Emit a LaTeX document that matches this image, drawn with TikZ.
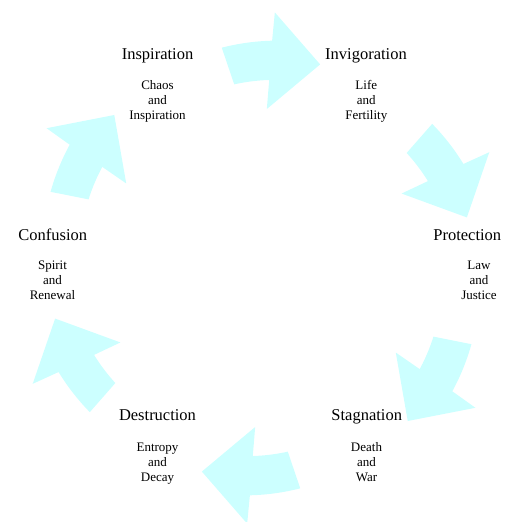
\documentclass[tikz,border=0pt]{standalone}
\usepackage{fontspec}
\setmainfont{Liberation Serif}
\definecolor{arrowfill}{HTML}{CCFFFF}
\begin{document}
\begin{tikzpicture}[x=1pt,y=1pt,
  title/.style={anchor=base, inner sep=0pt, font=\fontsize{16.5}{19}\selectfont},
  sub/.style={anchor=base, inner sep=0pt, align=center, font=\fontsize{13}{15}\selectfont},
  cyclearrow/.style={fill=arrowfill, draw=none}]
\useasboundingbox (0,0) rectangle (507,-522);
\coordinate (c) at (261,-268);
\foreach \k in {0,...,5} {
  \path[cyclearrow, shift={(c)}, rotate=-60*\k]
    (100.1:223.8)
    -- plot[domain=100.1:87.2, samples=12] (\x:{223.8+(100.1-\x)/12.9*3.8})
    -- (86.9:256) -- (73.8:212) -- (87.9:159.1) -- (87.5:188.2)
    -- plot[domain=87.5:98.3, samples=12] (\x:{188.2-(\x-87.5)/10.8*2.6})
    -- cycle;
}
\node[title] (insp) at (157.5,-59) {Inspiration};
\node[sub] (insp-sub) at (157.5,-119) {Chaos\\and\\Inspiration};
\node[title] (invig) at (366,-59) {Invigoration};
\node[sub] (invig-sub) at (366.3,-119) {Life\\and\\Fertility};
\node[title] (prot) at (467.3,-240.5) {Protection};
\node[sub] (prot-sub) at (479,-299.5) {Law\\and\\Justice};
\node[title] (stag) at (366.7,-420.5) {Stagnation};
\node[sub] (stag-sub) at (366.5,-481) {Death\\and\\War};
\node[title] (dest) at (157.5,-420.5) {Destruction};
\node[sub] (dest-sub) at (157.5,-481) {Entropy\\and\\Decay};
\node[title] (conf) at (52.8,-240.5) {Confusion};
\node[sub] (conf-sub) at (52.5,-299.5) {Spirit\\and\\Renewal};
\end{tikzpicture}
\end{document}
